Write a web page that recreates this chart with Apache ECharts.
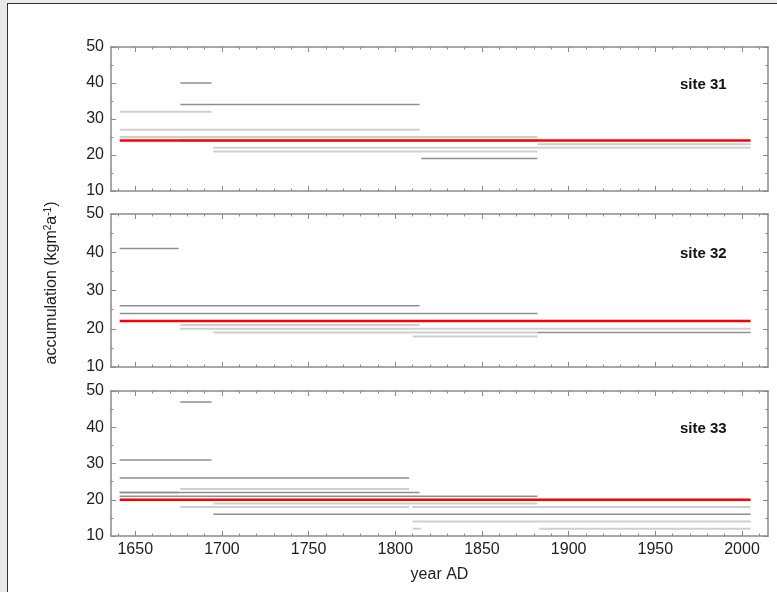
<!DOCTYPE html>
<html>
<head>
<meta charset="utf-8">
<script src="https://cdn.jsdelivr.net/npm/echarts@6/dist/echarts.min.js"></script>
<style>
  html, body { margin:0; padding:0; width:777px; height:592px; background:#e9e9e9; overflow:hidden; }
  #frame { position:absolute; left:7px; top:3px; width:770px; height:589px; background:#ffffff; border-left:1px solid #333; border-top:1px solid #333; box-sizing:border-box; }
  #chart { position:absolute; left:0; top:0; width:777px; height:592px; }
</style>
</head>
<body>
<div id="frame"></div>
<div id="chart"></div>
<script>
// ---- data ----
const siteNames = ['site 31', 'site 32', 'site 33'];
const xMin = 1636, xMax = 2015;
const majorYears = [1650, 1700, 1750, 1800, 1850, 1900, 1950, 2000];
const minorYears = [1640, 1660, 1670, 1680, 1690, 1710, 1720, 1730, 1740, 1760, 1770, 1780, 1790,
                    1810, 1820, 1830, 1840, 1860, 1870, 1880, 1890, 1910, 1920, 1930, 1940,
                    1960, 1970, 1980, 1990, 2010];
const yTicks = [10, 20, 30, 40, 50];

// segments: [startYear, endYear, accumulation]
const site31Dark  = [[1676, 1694, 40], [1676, 1814, 34], [1676, 1882, 24], [1815, 1882, 19]];
const site31Light = [[1641, 1694, 32], [1641, 1814, 27], [1641, 1882, 25], [1695, 2005, 22], [1695, 1882, 21], [1882, 2005, 23]];
const site31Mean  = [1641, 2005, 24];

const site32Dark  = [[1641, 1675, 41], [1641, 1814, 26], [1641, 1882, 24], [1882, 2005, 19]];
const site32Light = [[1676, 1814, 21], [1676, 2005, 20], [1695, 1882, 19], [1810, 1882, 18]];
const site32Mean  = [1641, 2005, 22];

const site33Dark  = [[1676, 1694, 47], [1641, 1694, 31], [1641, 1808, 26], [1641, 1675, 22], [1641, 1814, 22], [1641, 1882, 21], [1695, 2005, 16]];
const site33Light = [[1676, 1808, 23], [1695, 1882, 19], [1676, 1808, 18], [1810, 2005, 18], [1810, 2005, 14], [1810, 1815, 12], [1883, 2005, 12]];
const site33Mean  = [1641, 2005, 20];

const darkSets  = [site31Dark, site32Dark, site33Dark];
const lightSets = [site31Light, site32Light, site33Light];
const means     = [site31Mean, site32Mean, site33Mean];

// ---- layout ----
const grids = [
  { left: 111, right: 9, top: 47, height: 144 },
  { left: 111, right: 9, top: 214, height: 153 },
  { left: 111, right: 9, top: 391, height: 145 }
];
const axisColor = '#8a8a8a';
const labelColor = '#222';
const fontFam = '"Liberation Sans", Arial, sans-serif';

const xAxes = [], yAxes = [], series = [], graphics = [];
grids.forEach((g, i) => {
  const base = xAxes.length;
  const mk = (pos, vals, len, showLine, showLabel) => ({
    gridIndex: i, type: 'value', min: xMin, max: xMax, position: pos,
    axisLine: { show: showLine, lineStyle: { color: axisColor, width: 1.5 } },
    axisTick: { show: true, inside: true, length: len, customValues: vals, lineStyle: { color: axisColor, width: 1 } },
    axisLabel: showLabel ? { show: true, customValues: majorYears, formatter: v => String(v), color: labelColor, fontSize: 16, fontFamily: fontFam, margin: 6 } : { show: false },
    splitLine: { show: false }
  });
  xAxes.push(mk('bottom', majorYears, 5, true, i === 2));
  xAxes.push(mk('bottom', minorYears, 2.5, false, false));
  xAxes.push(mk('top', majorYears, 5, true, false));
  xAxes.push(mk('top', minorYears, 2.5, false, false));
  if (i === 2) {
    xAxes[base].name = 'year AD';
    xAxes[base].nameLocation = 'middle';
    xAxes[base].nameGap = 31;
    xAxes[base].nameTextStyle = { color: labelColor, fontSize: 16, fontFamily: fontFam };
  }
  const yb = yAxes.length;
  const mky = (pos, showLabel) => ({
    gridIndex: i, type: 'value', min: 10, max: 50, interval: 10, position: pos,
    axisLine: { show: true, lineStyle: { color: axisColor, width: 1.5 } },
    axisTick: { show: true, inside: true, length: 5, lineStyle: { color: axisColor } },
    minorTick: { show: true, splitNumber: 2, length: 2.5, lineStyle: { color: axisColor } },
    axisLabel: showLabel ? { show: true, color: labelColor, fontSize: 16, fontFamily: fontFam, margin: 7 } : { show: false },
    splitLine: { show: false }
  });
  yAxes.push(mky('left', true));
  yAxes.push(mky('right', false));

  const seg = (s, color, width, z) => ({
    type: 'line', xAxisIndex: base, yAxisIndex: yb, symbol: 'none', silent: true, z: z,
    data: [[s[0], s[2]], [s[1], s[2]]],
    lineStyle: { color: color, width: width }
  });
  lightSets[i].forEach(s => series.push(seg(s, '#cfcfcf', 2, 2)));
  darkSets[i].forEach(s => series.push(seg(s, '#8f8f8f', 1.5, 3)));
  series.push(seg(means[i], '#ff0000', 2.5, 4));

  graphics.push({
    type: 'text', left: 680, top: g.top + (i === 1 ? 32 : 30),
    style: { text: siteNames[i], font: 'bold 15px "Liberation Sans", Arial, sans-serif', fill: '#111' }
  });
});

graphics.push({
  type: 'text', x: 52, y: 283, rotation: Math.PI / 2,
  style: {
    text: 'accumulation (kgm{sup|2}a{sup|-1})',
    fontSize: 16, fontFamily: fontFam, fill: labelColor,
    align: 'center', verticalAlign: 'middle', lineHeight: 18,
    rich: { sup: { fontSize: 10, lineHeight: 18, verticalAlign: 'top', fill: labelColor, fontFamily: fontFam, padding: [0, 0, 7, 0] } }
  }
});

const chart = echarts.init(document.getElementById('chart'), null, { renderer: 'canvas' });
chart.setOption({
  backgroundColor: 'transparent',
  animation: false,
  grid: grids,
  xAxis: xAxes,
  yAxis: yAxes,
  series: series,
  graphic: graphics
});
</script>
</body>
</html>
